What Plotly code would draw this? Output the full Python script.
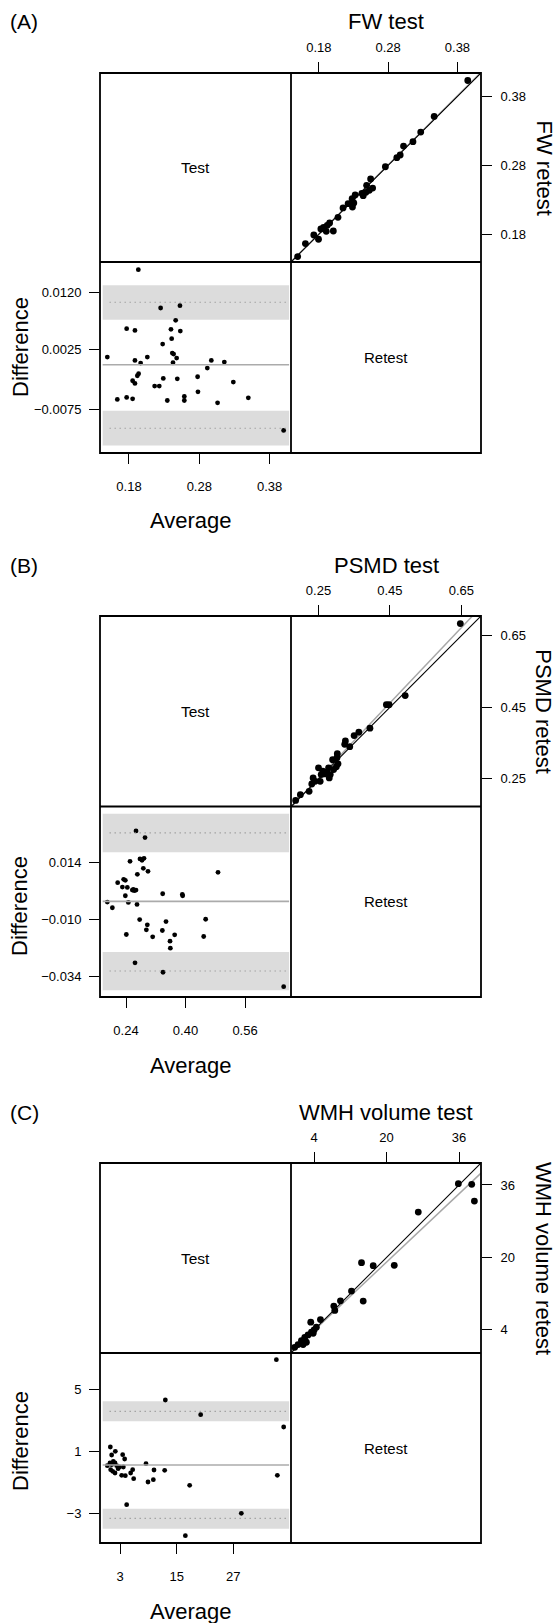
import plotly.graph_objects as go

# ---------------- DATA ----------------
# Panel A: FW
A_avg = [0.1933, 0.225, 0.2525, 0.2464, 0.1767, 0.1885, 0.2397, 0.253, 0.2407, 0.2279, 0.1492, 0.2061,
         0.2416, 0.2435, 0.2478, 0.1885, 0.1966, 0.2426, 0.2971, 0.3156, 0.2914, 0.1937, 0.1919, 0.1852,
         0.1885, 0.2165, 0.2231, 0.2288, 0.2487, 0.2776, 0.3284, 0.1634, 0.1767, 0.1852, 0.2345, 0.2587,
         0.2587, 0.2781, 0.306, 0.3497, 0.3999]
A_diff = [0.01588, 0.00944, 0.00984, 0.00737, 0.00597, 0.00569, 0.00586, 0.00558, 0.00429, 0.0034, 0.00121,
          0.00121, 0.00188, 0.00172, 0.00104, 0.00065, 0.0002, 0.00026, 0.00065, 0.00037, -0.00064, -0.00159,
          -0.00192, -0.00276, -0.00321, -0.00366, -0.00366, -0.00237, -0.00243, -0.00209, -0.00299, -0.0059,
          -0.00556, -0.00579, -0.00607, -0.0054, -0.00607, -0.00461, -0.00646, -0.00562, -0.0111]
A_test = [0.3949, 0.3464, 0.327, 0.3158, 0.3022, 0.2974, 0.2925, 0.276, 0.2547, 0.2489, 0.2576, 0.2528,
          0.2479, 0.244, 0.2421, 0.2324, 0.228, 0.2222, 0.2149, 0.2304, 0.2285, 0.2076, 0.1955, 0.1921,
          0.1868, 0.1829, 0.1907, 0.2009, 0.1727, 0.1795, 0.1606, 0.1494]
A_retest = [0.4031, 0.351, 0.3283, 0.3143, 0.308, 0.295, 0.2911, 0.278, 0.2602, 0.251, 0.2471, 0.2438,
            0.2409, 0.236, 0.2394, 0.237, 0.2317, 0.2244, 0.2182, 0.2254, 0.2196, 0.2046, 0.1964, 0.193,
            0.1901, 0.1877, 0.1843, 0.1848, 0.179, 0.1728, 0.1665, 0.1476]
A_loa = [-0.01072, -0.00008, 0.0104]          # lower, mean, upper
A_band_lo = [-0.01363, -0.0078]
A_band_hi = [0.00748, 0.01325]
A_fit_x = [0.1398, 0.414]
A_fit_y = [0.1400, 0.4150]

# Panel B: PSMD
B_avg = [0.2669, 0.2911, 0.2508, 0.2776, 0.283, 0.2884, 0.2866, 0.2991, 0.2705, 0.4873, 0.2176, 0.2337,
         0.2382, 0.2302, 0.2436, 0.257, 0.2624, 0.2669, 0.2597, 0.2382, 0.3386, 0.3914, 0.3923, 0.1898,
         0.2033, 0.2463, 0.2696, 0.2767, 0.3475, 0.4541, 0.2973, 0.2947, 0.3117, 0.3377, 0.3708, 0.2409,
         0.3583, 0.3592, 0.4488, 0.2642, 0.3395, 0.6638]
B_diff = [0.02716, 0.02436, 0.01442, 0.0154, 0.01484, 0.01568, 0.01148, 0.01022, 0.00896, 0.0098, 0.00546,
          0.00686, 0.00644, 0.00364, 0.0035, 0.00238, 0.0021, 0.00238, 0.00266, 0.0, 0.00084, 0.00056, 0.0,
          -0.00266, -0.00504, -0.0028, -0.00364, -0.01, -0.01084, -0.00986, -0.01218, -0.01428, -0.01722,
          -0.01456, -0.01638, -0.01624, -0.01904, -0.02198, -0.01708, -0.0281, -0.03206, -0.03808]
B_test = [0.6471, 0.4928, 0.4476, 0.4401, 0.394, 0.3629, 0.3497, 0.3253, 0.3234, 0.3375, 0.3027, 0.2895,
          0.3046, 0.2999, 0.2923, 0.2782, 0.2735, 0.2829, 0.2801, 0.25, 0.2575, 0.2349, 0.2406, 0.2547,
          0.2312, 0.2237, 0.1992, 0.186, 0.2669, 0.3017, 0.262]
B_retest = [0.6838, 0.4829, 0.4575, 0.4575, 0.3918, 0.3805, 0.3711, 0.3561, 0.3467, 0.3401, 0.3204, 0.3035,
            0.2923, 0.2838, 0.2763, 0.281, 0.2688, 0.2622, 0.2528, 0.281, 0.2622, 0.2528, 0.2434, 0.2434,
            0.2359, 0.2153, 0.2059, 0.1899, 0.2641, 0.3092, 0.272]
B_loa = [-0.0315, -0.00238, 0.02632]
B_band_lo = [-0.03962, -0.02352]
B_band_hi = [0.0182, 0.0343]
B_fit_x = [0.173, 0.681]
B_fit_y = [0.171, 0.705]

# Panel C: WMH volume
C_avg = [36.11, 12.6, 20.08, 37.66, 36.32, 17.75, 4.41, 28.69, 16.84, 0.953, 2.012, 1.235, 3.565, 3.988,
         1.588, 0.882, 1.941, 0.318, 1.235, 2.294, 2.859, 3.706, 1.024, 1.941, 3.353, 4.129, 5.259, 5.682,
         5.894, 8.506, 10.2, 12.46, 8.929, 10.06, 1.447, 2.6]
C_diff = [6.951, 4.342, 3.393, 2.595, -0.531, -1.178, -2.428, -2.989, -4.433, 1.302, 1.022, 0.784, 0.806,
          0.526, 0.375, 0.267, 0.267, 0.094, 0.159, 0.094, 0.008, 0.008, -0.164, -0.380, -0.531, -0.552,
          -0.380, -0.164, -0.746, 0.224, -0.186, -0.207, -0.962, -0.811, -0.272, -0.1]
C_test = [35.85, 38.8, 39.39, 27.0, 14.47, 17.05, 21.7, 12.26, 9.82, 8.35, 8.57, 14.84, 5.4, 3.26, 4.0,
          3.41, 2.67, 1.94, 1.2, 2.3, 0.46, -0.28, 4.5, 3.8, 1.57]
C_retest = [36.29, 36.15, 32.45, 30.01, 18.85, 18.19, 18.26, 12.57, 10.43, 9.25, 8.29, 10.36, 6.29, 5.7,
            4.0, 3.48, 2.89, 2.37, 1.64, 1.27, 0.75, 0.16, 4.6, 3.26, 0.75]
C_loa = [-3.312, 0.138, 3.609]
C_band_lo = [-3.98, -2.687]
C_band_hi = [2.962, 4.256]
C_fit_x = [-1.1, 40.85]
C_fit_y = [-0.92, 38.62]

# axis ranges and ticks
A_ba_xrange = [0.1388, 0.4104]; A_ba_yrange = [-0.01488, 0.01716]; A_sc_range = [0.1398, 0.414]
B_ba_xrange = [0.1701, 0.6835]; B_ba_yrange = [-0.04242, 0.03738]; B_sc_range = [0.173, 0.705]
C_ba_xrange = [-1.235, 39.21]; C_ba_yrange = [-4.907, 7.382]; C_sc_range = [-1.1, 40.85]

A_ba_xticks = [0.18, 0.28, 0.38]; A_ba_xlabels = ["0.18", "0.28", "0.38"]
A_ba_yticks = [-0.0075, 0.0025, 0.012]; A_ba_ylabels = ["\u22120.0075", "0.0025", "0.0120"]
A_sc_ticks = [0.18, 0.28, 0.38]; A_sc_labels = ["0.18", "0.28", "0.38"]
B_ba_xticks = [0.24, 0.40, 0.56]; B_ba_xlabels = ["0.24", "0.40", "0.56"]
B_ba_yticks = [-0.034, -0.010, 0.014]; B_ba_ylabels = ["\u22120.034", "\u22120.010", "0.014"]
B_sc_ticks = [0.25, 0.45, 0.65]; B_sc_labels = ["0.25", "0.45", "0.65"]
C_ba_xticks = [3, 15, 27]; C_ba_xlabels = ["3", "15", "27"]
C_ba_yticks = [-3, 1, 5]; C_ba_ylabels = ["\u22123", "1", "5"]
C_sc_ticks = [4, 20, 36]; C_sc_labels = ["4", "20", "36"]

panel_tags = ["(A)", "(B)", "(C)"]
test_titles = ["FW test", "PSMD test", "WMH volume test"]
retest_titles = ["FW retest", "PSMD retest", "WMH volume retest"]

# ---------------- LAYOUT ----------------
W, H = 556, 1623
FONT = "Liberation Sans, Arial, Helvetica, sans-serif"


def px(x):
    return x / W


def py(y):
    return 1 - y / H


def suf(n):
    return "" if n == 1 else str(n)


L, M, R = 100, 291, 481
geoms = [(73, 262, 453), (616, 806.5, 997), (1163, 1353, 1543)]
diff_label_y = [347, 906, 1441]

panels = [
    dict(avg=A_avg, diff=A_diff, test=A_test, retest=A_retest, loa=A_loa, blo=A_band_lo, bhi=A_band_hi,
         fx=A_fit_x, fy=A_fit_y, bax=A_ba_xrange, bay=A_ba_yrange, sc=A_sc_range,
         bxt=A_ba_xticks, bxl=A_ba_xlabels, byt=A_ba_yticks, byl=A_ba_ylabels, st=A_sc_ticks, sl=A_sc_labels),
    dict(avg=B_avg, diff=B_diff, test=B_test, retest=B_retest, loa=B_loa, blo=B_band_lo, bhi=B_band_hi,
         fx=B_fit_x, fy=B_fit_y, bax=B_ba_xrange, bay=B_ba_yrange, sc=B_sc_range,
         bxt=B_ba_xticks, bxl=B_ba_xlabels, byt=B_ba_yticks, byl=B_ba_ylabels, st=B_sc_ticks, sl=B_sc_labels),
    dict(avg=C_avg, diff=C_diff, test=C_test, retest=C_retest, loa=C_loa, blo=C_band_lo, bhi=C_band_hi,
         fx=C_fit_x, fy=C_fit_y, bax=C_ba_xrange, bay=C_ba_yrange, sc=C_sc_range,
         bxt=C_ba_xticks, bxl=C_ba_xlabels, byt=C_ba_yticks, byl=C_ba_ylabels, st=C_sc_ticks, sl=C_sc_labels),
]

fig = go.Figure()
layout = dict(width=W, height=H, margin=dict(l=0, r=0, t=0, b=0), paper_bgcolor="white",
              plot_bgcolor="rgba(0,0,0,0)", showlegend=False, font=dict(family=FONT, color="black"))
shapes = []
annotations = []

tick_common = dict(showgrid=False, zeroline=False, showline=False, ticks="outside", ticklen=10,
                   tickwidth=1.3, tickcolor="black", tickfont=dict(family=FONT, size=13, color="black"),
                   tickmode="array", fixedrange=True)


def ann(text, x, y, size, angle=0):
    annotations.append(dict(text=text, x=px(x), y=py(y), xref="paper", yref="paper", showarrow=False,
                            xanchor="center", yanchor="middle", textangle=angle,
                            font=dict(family=FONT, size=size, color="black")))


for i, (p, (T, Hm, B)) in enumerate(zip(panels, geoms)):
    ba = suf(2 * i + 1)
    sc = suf(2 * i + 2)
    bx, by = f"x{ba}", f"y{ba}"
    sx, sy = f"x{sc}", f"y{sc}"

    layout[f"xaxis{ba}"] = dict(domain=[px(L), px(M)], anchor=by, range=p["bax"], side="bottom",
                                tickvals=p["bxt"], ticktext=p["bxl"], ticklabelstandoff=11, **tick_common)
    layout[f"yaxis{ba}"] = dict(domain=[py(B), py(Hm)], anchor=bx, range=p["bay"], side="left",
                                tickvals=p["byt"], ticktext=p["byl"], ticklabelstandoff=5, **tick_common)
    layout[f"xaxis{sc}"] = dict(domain=[px(M), px(R)], anchor=sy, range=p["sc"], side="top",
                                tickvals=p["st"], ticktext=p["sl"], ticklabelstandoff=5, **tick_common)
    layout[f"yaxis{sc}"] = dict(domain=[py(Hm), py(T)], anchor=sx, range=p["sc"], side="right",
                                tickvals=p["st"], ticktext=p["sl"], ticklabelstandoff=6, **tick_common)

    # LoA bands
    for band in (p["blo"], p["bhi"]):
        shapes.append(dict(type="rect", xref=f"{bx} domain", yref=by, x0=0.014, x1=0.99,
                           y0=band[0], y1=band[1], fillcolor="#dcdcdc", line=dict(width=0), layer="below"))
    # mean line + LoA dotted lines
    shapes.append(dict(type="line", xref=f"{bx} domain", yref=by, x0=0.014, x1=0.99, y0=p["loa"][1],
                       y1=p["loa"][1], line=dict(color="#ababab", width=1.6)))
    for k in (0, 2):
        shapes.append(dict(type="line", xref=f"{bx} domain", yref=by, x0=0.05, x1=0.985, y0=p["loa"][k],
                           y1=p["loa"][k], line=dict(color="#9a9a9a", width=1.1, dash="1.3px,3.7px")))

    fig.add_trace(go.Scatter(x=p["avg"], y=p["diff"], mode="markers", xaxis=bx, yaxis=by,
                             marker=dict(color="black", size=4.8), hoverinfo="skip", cliponaxis=False))

    # scatter panel: fitted line (gray) and identity line (black)
    fig.add_trace(go.Scatter(x=p["fx"], y=p["fy"], mode="lines", xaxis=sx, yaxis=sy,
                             line=dict(color="#a8a8a8", width=1.5), hoverinfo="skip"))
    fig.add_trace(go.Scatter(x=p["sc"], y=p["sc"], mode="lines", xaxis=sx, yaxis=sy,
                             line=dict(color="black", width=1.1), hoverinfo="skip"))
    fig.add_trace(go.Scatter(x=p["test"], y=p["retest"], mode="markers", xaxis=sx, yaxis=sy,
                             marker=dict(color="black", size=6.8), hoverinfo="skip", cliponaxis=False))

    # frame
    lw = 1.8
    shapes.append(dict(type="rect", xref="paper", yref="paper", x0=px(L), x1=px(R), y0=py(B), y1=py(T),
                       line=dict(color="black", width=lw), layer="above"))
    shapes.append(dict(type="line", xref="paper", yref="paper", x0=px(M), x1=px(M), y0=py(B), y1=py(T),
                       line=dict(color="black", width=lw), layer="above"))
    shapes.append(dict(type="line", xref="paper", yref="paper", x0=px(L), x1=px(R), y0=py(Hm), y1=py(Hm),
                       line=dict(color="black", width=lw), layer="above"))

    ann(panel_tags[i], 24, T - 51, 21)
    ann(test_titles[i], (M + R) / 2, T - 51, 22)
    ann(retest_titles[i], 544, (T + Hm) / 2, 22, 90)
    ann("Difference", 20, diff_label_y[i], 22, -90)
    ann("Average", 191, B + 68, 22)
    ann("Test", (L + M) / 2, (T + Hm) / 2, 15.5)
    ann("Retest", (M + R) / 2, (Hm + B) / 2, 15)

layout["shapes"] = shapes
layout["annotations"] = annotations
fig.update_layout(**layout)
fig.write_html("out.html", config=dict(displayModeBar=False),
               post_script="document.body.style.margin='0';document.body.style.overflow='hidden';")
